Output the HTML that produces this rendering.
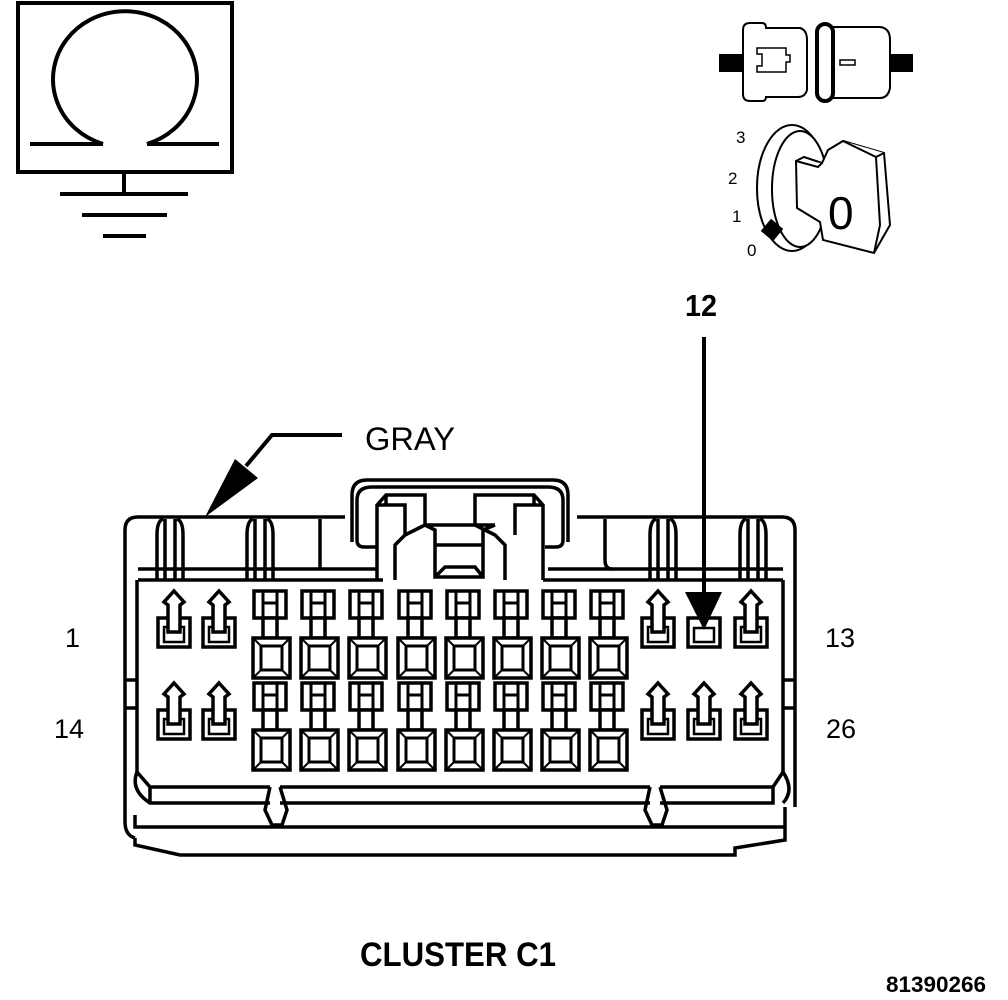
<!DOCTYPE html>
<html><head><meta charset="utf-8"><style>
html,body{margin:0;padding:0;background:#fff;}
svg{display:block;}
text{font-family:"Liberation Sans",sans-serif;fill:#000;}
</style></head><body>
<svg width="1008" height="1000" viewBox="0 0 1008 1000" xmlns="http://www.w3.org/2000/svg">
<defs>
<g id="sp" stroke="#000" fill="#fff">
  <rect x="0" y="28" width="32" height="29" stroke-width="3.5"/>
  <rect x="6" y="37" width="20" height="15" stroke-width="2.5"/>
  <path d="M16,1 L26,12 L22,15 L22,42 L10,42 L10,15 L6,12 Z" stroke-width="3.5"/>
</g>
<g id="bp" stroke="#000" fill="#fff" stroke-width="3.5">
  <rect x="1" y="1" width="32" height="27"/>
  <path d="M10,1 V28 M24,1 V28 M10,13 H24" stroke-width="3"/>
  <rect x="10" y="28" width="14" height="20"/>
  <rect x="0" y="48" width="37" height="40"/>
  <rect x="8" y="56" width="21" height="24" stroke-width="3"/>
  <path d="M0,48 L8,56 M37,48 L29,56 M0,88 L8,80 M37,88 L29,80" stroke-width="2"/>
</g>
</defs>

<!-- ground symbol -->
<g stroke="#000" stroke-width="4" fill="none">
  <rect x="18" y="3" width="214" height="169"/>
  <path d="M103,144 A72,68 0 1 1 147,144"/>
  <path d="M30,144 H103 M147,144 H219"/>
  <path d="M124,172 V194 M60,194 H188 M82,215 H167 M103,236 H146"/>
</g>

<!-- top connector icon -->
<g stroke="#000" fill="#fff" stroke-width="2">
  <rect x="720" y="55" width="25" height="16" fill="#000"/>
  <rect x="888" y="55" width="24" height="16" fill="#000"/>
  <path d="M750,23 H762 Q766,23 766,28 H800 Q807,30 807,40 V90 Q805,97 798,97 H766 Q766,101 762,101 H750 Q743,101 743,94 V30 Q743,23 750,23 Z"/>
  <path d="M757,48 H786 V55 H790 V62 H786 V72 H757 V66 H762 V54 H757 Z" stroke-width="1.5"/>
  <path d="M833,27 H880 Q890,28 890,40 V88 Q888,98 880,98 H833 Z"/>
  <rect x="840" y="60" width="15" height="5" stroke-width="1.5"/>
  <rect x="817" y="24" width="16" height="77" rx="8" stroke-width="4"/>
</g>

<!-- key icon -->
<g stroke="#000" fill="#fff" stroke-width="2">
  <ellipse cx="792" cy="188" rx="35" ry="63"/>
  <ellipse cx="800" cy="189" rx="28" ry="58"/>
  <path d="M796,161 L804,157 L822,163 L828,150 L843,141 L884,153 L890,225 L874,253 L823,240 L820,222 L797,208 Z"/>
  <path d="M796,161 L818,167 L822,163 M843,141 L876,157 L884,153 M876,157 L880,225 L874,253"/>
  <rect x="765" y="223" width="14" height="14" fill="#000" transform="rotate(40 772 230)"/>
</g>
<text x="736" y="143" font-size="17">3</text>
<text x="728" y="184" font-size="17">2</text>
<text x="732" y="222" font-size="17">1</text>
<text x="747" y="256" font-size="17">0</text>
<text x="828" y="229" font-size="46">0</text>

<!-- labels -->
<text x="685" y="316" font-size="31" font-weight="bold" textLength="32" lengthAdjust="spacingAndGlyphs">12</text>
<text x="365" y="450" font-size="32" textLength="90" lengthAdjust="spacingAndGlyphs">GRAY</text>
<text x="65" y="647" font-size="27">1</text>
<text x="54" y="738" font-size="27">14</text>
<text x="825" y="647" font-size="27">13</text>
<text x="826" y="738" font-size="27">26</text>
<text x="360" y="966" font-size="34" font-weight="bold" textLength="196" lengthAdjust="spacingAndGlyphs">CLUSTER C1</text>
<text x="886" y="992" font-size="22" font-weight="bold" textLength="100" lengthAdjust="spacingAndGlyphs">81390266</text>

<!-- leaders -->
<g stroke="#000" stroke-width="4" fill="none">
  <path d="M342,435 H272 L246,466"/>
  <path d="M704,337 V595"/>
</g>
<path d="M235,459 L258,478 L205,517 Z" fill="#000"/>

<!-- connector body -->
<g stroke="#000" stroke-width="3.5" fill="none">
  <path d="M125,822 V530 Q125,517 138,517 H345"/>
  <path d="M577,517 H782 Q795,517 795,530 V807"/>
  <path d="M138,569 H378 M138,580 H383 M548,569 H783 M543,580 H783"/>
  <path d="M137,580 V772 M783,580 V772 M125,680 H137 M125,708 H137 M783,680 H795 M783,708 H795"/>
  <path d="M157,580 V535 Q157,521 163,519 M183,580 V535 Q183,521 177,519 M165,519 V580 M175,519 V580"/>
  <path d="M247,580 V535 Q247,521 253,519 M273,580 V535 Q273,521 267,519 M255,519 V580 M265,519 V580"/>
  <path d="M650,580 V535 Q650,521 656,519 M676,580 V535 Q676,521 670,519 M658,519 V580 M668,519 V580"/>
  <path d="M740,580 V535 Q740,521 746,519 M766,580 V535 Q766,521 760,519 M748,519 V580 M758,519 V580"/>
  <path d="M320,519 V569 M605,519 V560 Q605,569 612,569"/>
  <path d="M352,542 V495 Q352,480 367,480 H553 Q568,480 568,495 V542"/>
  <path d="M357,540 V500 Q357,487 372,487 H548 Q563,487 563,500 V540 Q563,547 556,547 H545"/>
  <path d="M357,540 Q357,547 364,547 H377"/>
  <path d="M377,580 V505 L386,495 H425 V525 L405,535 L395,545 V580"/>
  <path d="M377,505 H405 V535 M386,495 V505"/>
  <path d="M543,580 V505 L534,495 H475 V525 L495,535 L505,545 V580"/>
  <path d="M543,505 H515 V535 M534,495 V505"/>
  <path d="M425,525 L435,530 V577 H483 V530 L495,525 M435,545 H483 M425,525 H495 M435,577 L445,567 H475 L483,577"/>
  <path d="M137,772 Q130,790 150,803 H270 M150,787 H270 M150,787 V803 M137,772 L150,787"/>
  <path d="M280,787 H650 M280,803 H650 M660,787 H773 L783,772 M660,803 H773 V787 M783,772 Q795,790 783,803"/>
  <path d="M270,787 L265,810 L272,825 H282 L287,810 L280,787"/>
  <path d="M650,787 L645,810 L652,825 H662 L667,810 L660,787"/>
  <path d="M125,822 Q125,835 135,838 M135,815 V827 H785 V807 M785,827 V840 L735,848 V855 H180 L135,845 V838"/>
</g>

<!-- pins row 1 -->
<use href="#sp" x="158" y="590"/>
<use href="#sp" x="203" y="590"/>
<use href="#sp" x="642" y="590"/>
<g stroke="#000" fill="#fff">
  <rect x="688" y="618" width="32" height="29" stroke-width="3.5"/>
  <rect x="694" y="628" width="20" height="14" stroke-width="2.5"/>
</g>
<path d="M685,592 L722,592 L704,630 Z" fill="#000"/>
<use href="#sp" x="735" y="590"/>
<use href="#bp" x="253" y="590"/>
<use href="#bp" x="301" y="590"/>
<use href="#bp" x="349" y="590"/>
<use href="#bp" x="398" y="590"/>
<use href="#bp" x="446" y="590"/>
<use href="#bp" x="494" y="590"/>
<use href="#bp" x="542" y="590"/>
<use href="#bp" x="590" y="590"/>
<!-- pins row 2 -->
<use href="#sp" x="158" y="682"/>
<use href="#sp" x="203" y="682"/>
<use href="#sp" x="642" y="682"/>
<use href="#sp" x="688" y="682"/>
<use href="#sp" x="735" y="682"/>
<use href="#bp" x="253" y="682"/>
<use href="#bp" x="301" y="682"/>
<use href="#bp" x="349" y="682"/>
<use href="#bp" x="398" y="682"/>
<use href="#bp" x="446" y="682"/>
<use href="#bp" x="494" y="682"/>
<use href="#bp" x="542" y="682"/>
<use href="#bp" x="590" y="682"/>
</svg>
</body></html>
